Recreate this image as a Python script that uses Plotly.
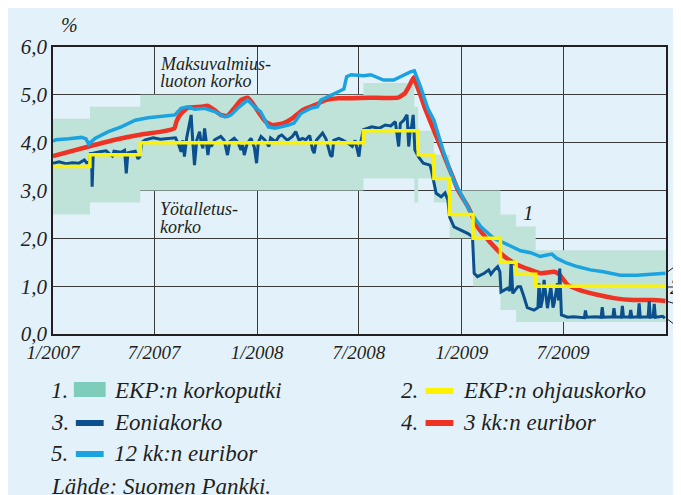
import plotly.graph_objects as go

# ECB rate corridor (korkoputki): deposit and marginal lending rates
CORRIDOR_DATES = ['2007-01-01', '2007-03-08', '2007-06-06', '2008-07-09', '2008-10-08',
                  '2008-10-15', '2008-11-12', '2008-12-10', '2009-01-21', '2009-03-11',
                  '2009-04-08', '2009-05-13', '2010-01-01']
DEPOSIT_RATE = [2.50, 2.75, 3.00, 3.25, 2.75, 3.25, 2.75, 2.00, 1.00, 0.50, 0.25, 0.25, 0.25]
LENDING_RATE = [4.50, 4.75, 5.00, 5.25, 4.75, 4.25, 3.75, 3.00, 3.00, 2.50, 2.25, 1.75, 1.75]

# ECB main refinancing rate (ohjauskorko)
MRO_DATES = ['2007-01-01', '2007-03-08', '2007-06-06', '2008-07-09', '2008-10-15',
             '2008-11-12', '2008-12-10', '2009-01-21', '2009-03-11', '2009-04-08',
             '2009-05-13', '2010-01-01']
MRO_RATE = [3.50, 3.75, 4.00, 4.25, 3.75, 3.25, 2.50, 2.00, 1.50, 1.25, 1.00, 1.00]

# Eonia
EONIA_DATES = [
    '2007-01-01', '2007-01-12', '2007-01-24', '2007-02-05', '2007-02-16', '2007-02-26',
    '2007-03-02', '2007-03-07', '2007-03-09', '2007-03-11', '2007-03-12', '2007-03-14',
    '2007-03-26', '2007-04-06', '2007-04-17', '2007-04-20', '2007-05-02', '2007-05-09',
    '2007-05-12', '2007-05-15', '2007-05-28', '2007-06-02', '2007-06-06', '2007-06-08',
    '2007-06-15', '2007-06-29', '2007-07-12', '2007-07-26', '2007-08-08', '2007-08-14',
    '2007-08-18', '2007-08-21', '2007-08-24', '2007-08-28', '2007-09-05', '2007-09-08',
    '2007-09-11', '2007-09-15', '2007-09-20', '2007-09-23', '2007-09-26', '2007-09-29',
    '2007-10-02', '2007-10-05', '2007-10-08', '2007-10-11', '2007-10-17', '2007-10-28',
    '2007-11-03', '2007-11-09', '2007-11-13', '2007-11-21', '2007-11-28', '2007-12-03',
    '2007-12-06', '2007-12-09', '2007-12-14', '2007-12-21', '2007-12-27', '2007-12-31',
    '2008-01-03', '2008-01-08', '2008-01-15', '2008-01-22', '2008-01-25', '2008-02-03',
    '2008-02-09', '2008-02-14', '2008-02-24', '2008-03-04', '2008-03-10', '2008-03-16',
    '2008-03-22', '2008-03-28', '2008-04-04', '2008-04-09', '2008-04-12', '2008-04-16',
    '2008-04-27', '2008-05-03', '2008-05-11', '2008-05-14', '2008-05-17', '2008-05-26',
    '2008-06-01', '2008-06-10', '2008-06-19', '2008-06-24', '2008-07-01', '2008-07-04',
    '2008-07-09', '2008-07-24', '2008-08-06', '2008-08-17', '2008-08-27', '2008-09-04',
    '2008-09-10', '2008-09-13', '2008-09-19', '2008-09-25', '2008-09-28', '2008-10-01',
    '2008-10-03', '2008-10-06', '2008-10-09', '2008-10-15', '2008-10-24', '2008-11-05',
    '2008-11-08', '2008-11-16', '2008-11-25', '2008-12-02', '2008-12-07', '2008-12-10',
    '2008-12-18', '2008-12-31', '2009-01-12', '2009-01-20', '2009-01-23', '2009-01-29',
    '2009-02-10', '2009-02-18', '2009-02-22', '2009-02-28', '2009-03-06', '2009-03-10',
    '2009-03-12', '2009-03-24', '2009-03-28', '2009-03-30', '2009-04-02', '2009-04-11',
    '2009-04-16', '2009-04-22', '2009-04-28', '2009-05-10', '2009-05-17', '2009-05-19',
    '2009-05-22', '2009-05-25', '2009-05-28', '2009-06-03', '2009-06-09', '2009-06-13',
    '2009-06-15', '2009-06-21', '2009-06-23', '2009-06-25', '2009-06-28', '2009-07-09',
    '2009-07-20', '2009-08-08', '2009-08-10', '2009-08-12', '2009-08-28', '2009-09-07',
    '2009-09-09', '2009-09-11', '2009-09-28', '2009-09-30', '2009-10-02', '2009-10-13',
    '2009-10-15', '2009-10-17', '2009-10-28', '2009-10-30', '2009-11-01', '2009-11-12',
    '2009-11-14', '2009-11-16', '2009-11-30', '2009-12-02', '2009-12-04', '2009-12-09',
    '2009-12-11', '2009-12-13', '2009-12-26', '2009-12-30',
]
EONIA = [
    3.57, 3.60, 3.56, 3.58, 3.57, 3.64,
    3.58, 3.59, 3.80, 3.70, 3.08, 3.78,
    3.81, 3.83, 3.72, 3.82, 3.80, 3.84,
    3.36, 3.79, 3.82, 3.66, 3.72, 4.00,
    4.06, 4.10, 4.07, 4.09, 4.10, 3.95,
    3.81, 4.05, 3.71, 4.10, 4.58, 4.00,
    3.53, 4.05, 4.23, 4.00, 3.88, 4.30,
    4.05, 3.74, 4.00, 3.92, 4.06, 4.13,
    4.05, 3.74, 4.02, 4.09, 4.00, 3.85,
    3.95, 3.74, 3.98, 4.09, 3.90, 3.57,
    4.00, 4.13, 4.05, 3.92, 4.10, 4.02,
    4.13, 4.16, 4.05, 4.13, 4.23, 4.05,
    4.09, 4.06, 4.15, 3.85, 3.78, 4.05,
    4.20, 4.08, 3.74, 3.71, 4.05, 4.09,
    4.06, 4.00, 3.92, 4.05, 3.71, 4.00,
    4.27, 4.33, 4.30, 4.37, 4.35, 4.44,
    3.92, 4.40, 4.47, 4.58, 3.92, 4.30,
    4.33, 4.58, 3.85, 3.71, 3.57, 3.53,
    3.40, 2.94, 2.87, 2.95, 2.80, 2.45,
    2.24, 2.17, 2.10, 2.03, 1.27, 1.20,
    1.27, 1.34, 1.25, 1.34, 1.41, 1.30,
    0.88, 0.96, 0.90, 1.55, 0.85, 0.99,
    0.99, 0.78, 0.55, 0.50, 0.55, 1.06,
    0.55, 0.71, 1.13, 0.54, 0.99, 0.55,
    0.64, 1.06, 0.70, 1.37, 0.40, 0.35,
    0.36, 0.34, 0.49, 0.35, 0.36, 0.35,
    0.56, 0.35, 0.36, 0.54, 0.36, 0.35,
    0.59, 0.36, 0.35, 0.50, 0.35, 0.36,
    0.64, 0.35, 0.36, 0.68, 0.35, 0.36,
    0.63, 0.35, 0.37, 0.33,
]

# 3 month Euribor
EUR3_DATES = [
    '2007-01-01', '2007-03-06', '2007-04-22', '2007-06-08', '2007-07-14', '2007-08-06',
    '2007-08-10', '2007-08-18', '2007-08-30', '2007-09-23', '2007-10-05', '2007-10-17',
    '2007-10-28', '2007-11-09', '2007-11-21', '2007-12-03', '2007-12-15', '2007-12-24',
    '2008-01-05', '2008-01-16', '2008-01-28', '2008-02-15', '2008-03-04', '2008-03-22',
    '2008-04-14', '2008-05-02', '2008-05-26', '2008-06-19', '2008-07-20', '2008-09-09',
    '2008-09-21', '2008-09-30', '2008-10-07', '2008-10-11', '2008-10-20', '2008-10-26',
    '2008-11-07', '2008-11-25', '2008-12-13', '2008-12-25', '2009-01-12', '2009-01-29',
    '2009-02-22', '2009-03-18', '2009-04-10', '2009-05-04', '2009-05-22', '2009-06-15',
    '2009-06-24', '2009-07-09', '2009-08-01', '2009-08-31', '2009-09-30', '2009-11-03',
    '2009-12-09', '2009-12-31',
]
EUR3 = [
    3.72, 3.92, 4.06, 4.17, 4.23, 4.30,
    4.45, 4.61, 4.73, 4.75, 4.77, 4.68,
    4.58, 4.56, 4.72, 4.89, 4.94, 4.82,
    4.61, 4.44, 4.37, 4.40, 4.51, 4.68,
    4.79, 4.89, 4.93, 4.93, 4.94, 4.94,
    5.03, 5.21, 5.37, 5.24, 4.96, 4.75,
    4.40, 3.88, 3.36, 3.01, 2.66, 2.24,
    1.90, 1.62, 1.45, 1.34, 1.27, 1.30,
    1.25, 1.03, 0.91, 0.82, 0.75, 0.71,
    0.71, 0.69,
]

# 12 month Euribor
EUR12_DATES = [
    '2007-01-01', '2007-01-06', '2007-01-29', '2007-02-21', '2007-03-01', '2007-03-06',
    '2007-03-17', '2007-04-10', '2007-05-03', '2007-05-28', '2007-06-20', '2007-07-08',
    '2007-07-26', '2007-08-07', '2007-08-18', '2007-08-30', '2007-09-11', '2007-09-29',
    '2007-10-17', '2007-11-04', '2007-11-15', '2007-11-30', '2007-12-15', '2007-12-27',
    '2008-01-07', '2008-01-15', '2008-01-21', '2008-02-02', '2008-02-14', '2008-02-26',
    '2008-03-07', '2008-03-19', '2008-04-06', '2008-04-18', '2008-04-24', '2008-05-12',
    '2008-05-26', '2008-06-04', '2008-06-09', '2008-06-17', '2008-07-10', '2008-07-22',
    '2008-08-14', '2008-09-01', '2008-09-19', '2008-10-01', '2008-10-08', '2008-10-19',
    '2008-11-01', '2008-11-12', '2008-11-30', '2008-12-18', '2009-01-02', '2009-01-17',
    '2009-02-04', '2009-02-27', '2009-03-29', '2009-04-16', '2009-05-04', '2009-05-21',
    '2009-06-02', '2009-06-11', '2009-06-20', '2009-07-08', '2009-07-26', '2009-08-19',
    '2009-09-11', '2009-10-11', '2009-11-10', '2009-12-10', '2009-12-31',
]
EUR12 = [
    4.03, 4.06, 4.08, 4.11, 4.08, 3.97,
    4.09, 4.23, 4.33, 4.47, 4.52, 4.54,
    4.56, 4.58, 4.72, 4.75, 4.70, 4.72,
    4.65, 4.54, 4.58, 4.75, 4.89, 4.75,
    4.65, 4.47, 4.33, 4.30, 4.33, 4.37,
    4.41, 4.61, 4.72, 4.75, 4.89, 5.00,
    5.07, 5.12, 5.38, 5.42, 5.40, 5.42,
    5.31, 5.31, 5.42, 5.48, 5.50, 5.17,
    4.72, 4.47, 3.78, 3.19, 2.87, 2.53,
    2.24, 2.00, 1.84, 1.74, 1.70, 1.62,
    1.65, 1.67, 1.58, 1.48, 1.41, 1.34,
    1.30, 1.23, 1.23, 1.25, 1.27,
]

X_TICKS = ['2007-01-01', '2007-07-01', '2008-01-01', '2008-07-01', '2009-01-01', '2009-07-01']
X_TICK_TEXT = ['1/2007', '7/2007', '1/2008', '7/2008', '1/2009', '7/2009']
Y_TICKS = [0, 1, 2, 3, 4, 5, 6]
Y_TICK_TEXT = ['0,0', '1,0', '2,0', '3,0', '4,0', '5,0', '6,0']

BG = '#E3F2FA'
BAND = '#BFE3D8'
BAND_KEY = '#7ECDBB'
YELLOW = '#FFF200'
DARK_BLUE = '#0B4F8E'
RED = '#EE3224'
LIGHT_BLUE = '#1BA3E1'
INK = '#231F20'
FONT = 'Liberation Serif'

# the page keeps its default 8 px body margin, so the figure is 8 px smaller
# and all page positions below are shifted by that much
OFF = 8
W, H = 681 - OFF, 495 - OFF
L, R, T, B = 49 - OFF, 666 - OFF, 47 - OFF, 334 - OFF
TEXT_PAD = 5  # annotation boxes add a little room before the glyphs


def px(x, y):
    # page pixel position -> paper fraction of the plot area
    return (x - OFF - L) / (R - L), (B - (y - OFF)) / (B - T)


def italic(size):
    return dict(family=FONT, size=size, color=INK, style='italic')


fig = go.Figure()

fig.add_trace(go.Scatter(x=CORRIDOR_DATES, y=DEPOSIT_RATE, mode='lines',
                         line=dict(width=0, shape='hv'), hoverinfo='skip'))
fig.add_trace(go.Scatter(x=CORRIDOR_DATES, y=LENDING_RATE, mode='lines',
                         line=dict(width=0, shape='hv'), fill='tonexty', fillcolor=BAND))
fig.add_trace(go.Scatter(x=EUR3_DATES, y=EUR3, mode='lines',
                         line=dict(color=RED, width=4.5, shape='spline', smoothing=0.4)))
fig.add_trace(go.Scatter(x=EUR12_DATES, y=EUR12, mode='lines',
                         line=dict(color=LIGHT_BLUE, width=3.5)))
fig.add_trace(go.Scatter(x=EONIA_DATES, y=EONIA, mode='lines',
                         line=dict(color=DARK_BLUE, width=3)))
fig.add_trace(go.Scatter(x=MRO_DATES, y=MRO_RATE, mode='lines',
                         line=dict(color=YELLOW, width=3.5, shape='hv')))

annotations = []
shapes = []


def note(text, x, y, size):
    fx, fy = px(x - TEXT_PAD, y)
    annotations.append(dict(text=text, x=fx, y=fy, xref='paper', yref='paper',
                            xanchor='left', yanchor='middle', showarrow=False,
                            font=italic(size)))


def seg(x0, y0, x1, y1, color=INK, width=1):
    fx0, fy0 = px(x0, y0)
    fx1, fy1 = px(x1, y1)
    shapes.append(dict(type='line', xref='paper', yref='paper', x0=fx0, y0=fy0,
                       x1=fx1, y1=fy1, line=dict(color=color, width=width)))


note('%', 60, 25, 20)
note('Maksuvalmius-', 160, 64, 18)
note('luoton korko', 160, 81, 18)
note('Yötalletus-', 160, 209, 18)
note('korko', 160, 227, 18)
note('1', 525, 213, 21)

# right-hand series markers
seg(666, 273, 677, 265)
seg(666, 287, 673, 287)
seg(666, 301, 676, 304)
seg(666, 318, 679, 328)
note('5', 678, 262, 20)
note('2', 673, 287, 20)
note('4', 677, 306, 20)
note('3', 679, 337, 20)

# legend
LEGEND = [
    ('1.', 'EKP:n korkoputki', BAND_KEY, 50, 390, 'box'),
    ('2.', 'EKP:n ohjauskorko', YELLOW, 402, 390, 'line'),
    ('3.', 'Eoniakorko', DARK_BLUE, 50, 422, 'line'),
    ('4.', '3 kk:n euribor', RED, 402, 422, 'line'),
    ('5.', '12 kk:n euribor', LIGHT_BLUE, 50, 453, 'line'),
]
for num, label, color, x, y, kind in LEGEND:
    note(num, x, y, 23)
    if kind == 'box':
        fx0, fy0 = px(x + 20, y + 7)
        fx1, fy1 = px(x + 52, y - 8)
        shapes.append(dict(type='rect', xref='paper', yref='paper', x0=fx0, y0=fy0,
                           x1=fx1, y1=fy1, fillcolor=color, line=dict(width=0)))
    else:
        seg(x + 22, y + 1, x + 50, y + 1, color=color, width=6)
    note(label, x + 63, y, 23)

note('Lähde: Suomen Pankki.', 50, 486, 23)

fig.update_layout(
    width=W, height=H, autosize=False,
    margin=dict(l=L, r=W - R, t=T, b=H - B),
    paper_bgcolor=BG, plot_bgcolor=BG,
    showlegend=False,
    annotations=annotations,
    shapes=shapes,
    xaxis=dict(type='date', range=['2007-01-01', '2010-01-01'],
               tickvals=X_TICKS, ticktext=X_TICK_TEXT, tickfont=italic(19),
               showgrid=True, gridcolor='#3a3a3a', gridwidth=1,
               showline=True, linecolor=INK, linewidth=1.5, mirror=True,
               ticks='', zeroline=False),
    yaxis=dict(range=[0, 6], tickvals=Y_TICKS, ticktext=Y_TICK_TEXT, tickfont=italic(21),
               showgrid=True, gridcolor='#3a3a3a', gridwidth=1,
               showline=True, linecolor=INK, linewidth=1.5, mirror=True,
               ticks='', zeroline=False),
)

fig.write_html('out.html')
